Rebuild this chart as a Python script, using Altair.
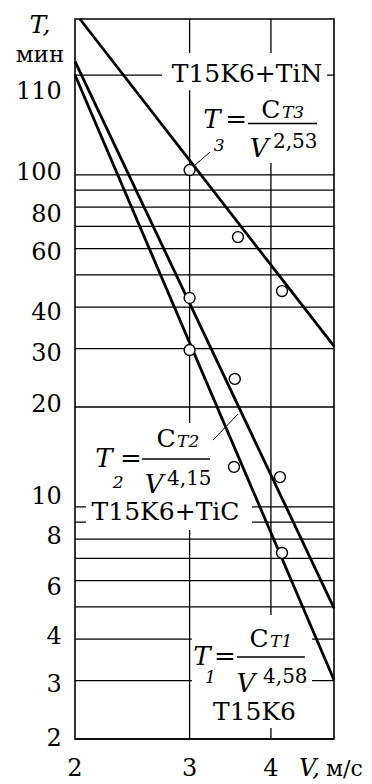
import altair as alt
import pandas as pd

FONT = "DejaVu Serif"

# ---- data ----
series_names = ["T15K6+TiN", "T15K6+TiC", "T15K6"]
line_V = {"T15K6+TiN": [2.035, 5.0], "T15K6+TiC": [2.0, 5.0], "T15K6": [2.0, 5.0]}
line_T = {"T15K6+TiN": [295.0, 30.5], "T15K6+TiC": [220.0, 4.96], "T15K6": [200.0, 3.01]}

pts_V = {"T15K6+TiN": [3.0, 3.56, 4.16], "T15K6+TiC": [3.0, 3.52, 4.13], "T15K6": [3.0, 3.51, 4.16]}
pts_T = {"T15K6+TiN": [103.5, 65.0, 44.7], "T15K6+TiC": [42.6, 24.3, 12.3], "T15K6": [29.7, 13.2, 7.27]}

y_grid = [2, 3, 4, 5, 6, 7, 8, 9, 10, 20, 30, 40, 50, 60, 70, 80, 90, 100, 200]
x_grid = [3, 4]
x_tick_vals = [2, 3, 4]
x_tick_text = ["2", "3", "4"]
y_tick_text = ["110", "100", "80", "60", "40", "30", "20", "10", "8", "6", "4", "3", "2"]
y_tick_pos = [177.8, 101.4, 75.7, 58.2, 38.4, 28.9, 20.3, 10.7, 8.1, 5.7, 4.06, 2.91, 2.0]

# ---- tables ----
line_rows = []
for s in series_names:
    for v, t in zip(line_V[s], line_T[s]):
        line_rows.append({"series": s, "V": v, "T": t})
lines_df = pd.DataFrame(line_rows)

pt_rows = []
for s in series_names:
    for v, t in zip(pts_V[s], pts_T[s]):
        pt_rows.append({"series": s, "V": v, "T": t})
pts_df = pd.DataFrame(pt_rows)

xs = alt.Scale(type="log", domain=[2, 5], nice=False, zero=False)
ys = alt.Scale(type="log", domain=[2, 295], nice=False, zero=False)


def X(field="V", **kw):
    return alt.X(f"{field}:Q", scale=xs, axis=None, **kw)


def Y(field="T", **kw):
    return alt.Y(f"{field}:Q", scale=ys, axis=None, **kw)


layers = []

# grid lines
layers.append(
    alt.Chart(pd.DataFrame({"T": y_grid})).mark_rule(color="black", strokeWidth=1.3).encode(y=Y())
)
layers.append(
    alt.Chart(pd.DataFrame({"V": x_grid})).mark_rule(color="black", strokeWidth=1.3).encode(x=X())
)

# white backgrounds behind labels (interrupting the grid)
boxes = pd.DataFrame({
    "V": [2.72, 3.112, 2.079, 3.024],
    "V2": [4.878, 4.758, 3.742, 4.626],
    "T": [233, 180, 17.9, 4.73],
    "T2": [180, 108.6, 8.52, 2.158],
})
layers.append(
    alt.Chart(boxes).mark_rect(color="white").encode(
        x=X(), x2="V2:Q", y=Y(), y2="T2:Q"
    )
)

# fraction bars and leaders
bars = pd.DataFrame({
    "V": [3.689, 2.534, 3.548],
    "V2": [4.708, 3.224, 4.511],
    "T": [143, 13.94, 3.53],
})
layers.append(
    alt.Chart(bars).mark_rule(color="black", strokeWidth=1.5).encode(x=X(), x2="V2:Q", y=Y())
)
leaders = pd.DataFrame({
    "V": [3.224, 3.259],
    "V2": [3.046, 3.561],
    "T": [117.2, 15.9],
    "T2": [106.4, 19.05],
})
layers.append(
    alt.Chart(leaders).mark_rule(color="black", strokeWidth=1).encode(x=X(), x2="V2:Q", y=Y(), y2="T2:Q")
)

# data lines
layers.append(
    alt.Chart(lines_df).mark_line(color="black", strokeWidth=2.8).encode(
        x=X(), y=Y(), detail="series:N"
    )
)

# measured points
layers.append(
    alt.Chart(pts_df).mark_point(shape="circle", filled=True, fill="white", stroke="black",
                                 strokeWidth=1.4, size=120, opacity=1).encode(
        x=X(), y=Y(), detail="series:N"
    )
)

# y tick labels
layers.append(
    alt.Chart(pd.DataFrame({"txt": y_tick_text, "T": y_tick_pos, "V": [1.909] * len(y_tick_pos)}))
    .mark_text(font=FONT, fontSize=24, align="right", baseline="middle", color="black")
    .encode(x=X(), y=Y(), text="txt:N")
)
# x tick labels
layers.append(
    alt.Chart(pd.DataFrame({"txt": x_tick_text, "V": x_tick_vals, "T": [1.545] * len(x_tick_vals)}))
    .mark_text(font=FONT, fontSize=24, align="center", baseline="alphabetic", color="black")
    .encode(x=X(), y=Y(), text="txt:N")
)

# text annotations: (text, V, T, size, style, align)
texts = [
    ("T15K6+TiN", 3.676, 190.4, 25, "normal", "center"),
    ("T15K6+TiC", 2.755, 9.13, 25, "normal", "center"),
    ("T15K6", 3.774, 2.28, 25, "normal", "center"),
    # T3 formula
    ("T", 3.246, 138.5, 26, "italic", "center"),
    ("3", 3.33, 118.0, 17, "italic", "center"),
    ("=", 3.536, 138.5, 26, "normal", "center"),
    ("C", 4.0, 148.4, 25, "normal", "center"),
    ("T3", 4.16, 148.4, 17, "italic", "left"),
    ("V", 3.836, 113.2, 26, "italic", "center"),
    ("2,53", 4.03, 120.6, 20, "normal", "left"),
    # T2 formula
    ("T", 2.216, 13.19, 26, "italic", "center"),
    ("2", 2.33, 11.4, 17, "italic", "center"),
    ("=", 2.438, 13.19, 26, "normal", "center"),
    ("C", 2.760, 15.15, 25, "normal", "center"),
    ("T2", 2.870, 15.15, 17, "italic", "left"),
    ("V", 2.646, 11.02, 26, "italic", "center"),
    ("4,15", 2.77, 11.64, 20, "normal", "left"),
    # T1 formula
    ("T", 3.134, 3.342, 26, "italic", "center"),
    ("1", 3.23, 2.94, 17, "italic", "center"),
    ("=", 3.40, 3.342, 26, "normal", "center"),
    ("C", 3.836, 3.786, 25, "normal", "center"),
    ("T1", 3.988, 3.786, 17, "italic", "left"),
    ("V", 3.662, 2.77, 26, "italic", "center"),
    ("4,58", 3.89, 2.95, 20, "normal", "left"),
    # axis titles
    ("T,", 1.767, 267.6, 25, "italic", "center"),
    ("мин", 1.767, 219.0, 23, "normal", "center"),
    ("V,", 4.418, 1.545, 24, "italic", "left"),
    ("м/с", 4.86, 1.545, 22, "normal", "left"),
]
for txt, v, t, size, style, align in texts:
    layers.append(
        alt.Chart(pd.DataFrame({"V": [v], "T": [t]}))
        .mark_text(text=txt, font=FONT, fontSize=size, fontStyle=style, align=align,
                   baseline="alphabetic", color="black")
        .encode(x=X(), y=Y())
    )

chart = (
    alt.layer(*layers)
    .properties(
        width=259,
        height=720,
        autosize=alt.AutoSizeParams(type="none"),
        padding={"left": 67, "top": 11, "right": 30, "bottom": 45},
        background="white",
    )
    .configure_view(stroke="black", strokeWidth=1.6)
)

chart.save("out.html", embed_options={"renderer": "svg", "actions": False})
